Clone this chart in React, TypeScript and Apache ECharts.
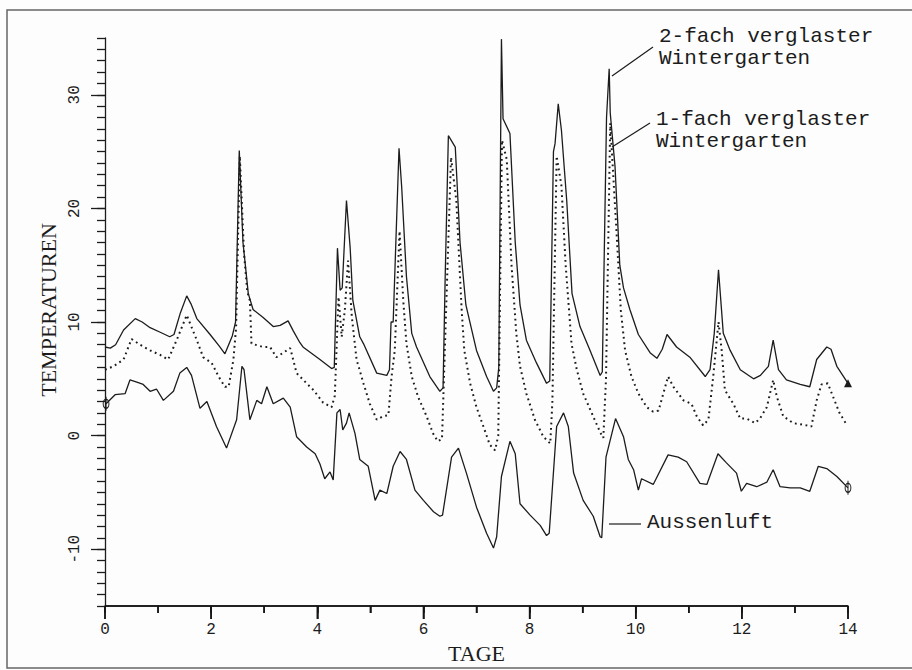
import React, { useEffect, useRef } from "react";
import * as echarts from "echarts";

// 2-fach verglaster Wintergarten (solid, upper)
const zweifachTage = [0, 0.1, 0.2, 0.35, 0.57, 0.7, 0.85, 1.04, 1.22, 1.3, 1.42, 1.54, 1.62, 1.73, 1.98, 2.15, 2.26, 2.4, 2.46, 2.53, 2.6, 2.7, 2.79, 2.98, 3.17, 3.3, 3.45, 3.55, 3.67, 3.73, 4.05, 4.27, 4.32, 4.38, 4.43, 4.47, 4.55, 4.62, 4.67, 4.8, 4.87, 5.12, 5.31, 5.36, 5.39, 5.43, 5.54, 5.59, 5.68, 5.78, 5.87, 6.12, 6.31, 6.37, 6.41, 6.47, 6.6, 6.69, 6.8, 7.0, 7.19, 7.32, 7.38, 7.42, 7.47, 7.5, 7.63, 7.73, 7.82, 7.94, 8.13, 8.32, 8.38, 8.45, 8.48, 8.54, 8.6, 8.7, 8.8, 8.95, 9.14, 9.33, 9.37, 9.45, 9.5, 9.52, 9.61, 9.7, 9.77, 9.89, 10.05, 10.27, 10.4, 10.5, 10.59, 10.77, 11.02, 11.31, 11.4, 11.48, 11.56, 11.65, 11.78, 11.97, 12.22, 12.35, 12.5, 12.59, 12.69, 12.84, 13.1, 13.28, 13.41, 13.6, 13.68, 13.79, 14.0];
const zweifachTemp = [7.8, 7.7, 8.0, 9.3, 10.3, 10.0, 9.5, 9.1, 8.7, 8.9, 10.8, 12.3, 11.6, 10.3, 8.9, 7.9, 7.2, 8.8, 10.0, 25.1, 17.0, 12.5, 11.1, 10.4, 9.6, 9.7, 10.1, 9.2, 8.2, 7.8, 6.7, 5.9, 6.0, 16.5, 12.8, 13.0, 20.7, 16.5, 11.9, 8.7, 8.1, 5.5, 5.3, 5.8, 10.0, 10.0, 25.3, 21.9, 14.0, 9.0, 7.8, 5.2, 3.9, 4.2, 14.0, 26.4, 25.4, 17.0, 11.5, 7.5, 5.2, 3.9, 4.2, 6.0, 34.9, 27.9, 26.6, 17.0, 11.5, 8.4, 6.4, 4.6, 4.8, 25.0, 25.7, 29.2, 26.9, 20.7, 12.5, 9.6, 7.5, 5.3, 5.6, 28.0, 32.3, 28.4, 23.7, 15.0, 13.0, 11.1, 8.9, 7.3, 6.8, 7.6, 8.9, 7.8, 6.9, 5.2, 5.8, 9.0, 14.6, 9.0, 7.5, 5.8, 5.0, 5.3, 6.1, 8.4, 5.8, 4.9, 4.5, 4.3, 6.7, 7.8, 7.6, 6.1, 4.6];

// 1-fach verglaster Wintergarten (dotted)
const einfachTage = [0, 0.16, 0.35, 0.5, 0.66, 0.85, 1.04, 1.19, 1.35, 1.54, 1.73, 1.85, 2.01, 2.14, 2.26, 2.33, 2.42, 2.47, 2.54, 2.62, 2.68, 2.73, 2.76, 2.98, 3.11, 3.23, 3.36, 3.49, 3.61, 3.8, 3.93, 4.11, 4.27, 4.33, 4.4, 4.46, 4.52, 4.58, 4.65, 4.74, 4.87, 4.99, 5.12, 5.24, 5.34, 5.4, 5.46, 5.55, 5.62, 5.68, 5.78, 5.9, 6.06, 6.18, 6.27, 6.35, 6.42, 6.52, 6.62, 6.68, 6.72, 6.77, 6.88, 7.0, 7.13, 7.25, 7.35, 7.41, 7.48, 7.57, 7.66, 7.75, 7.82, 7.94, 8.1, 8.26, 8.39, 8.43, 8.51, 8.6, 8.68, 8.73, 8.79, 8.89, 9.01, 9.17, 9.33, 9.39, 9.44, 9.52, 9.64, 9.72, 9.8, 9.92, 10.05, 10.21, 10.33, 10.43, 10.52, 10.61, 10.71, 10.9, 11.05, 11.15, 11.27, 11.37, 11.46, 11.56, 11.62, 11.68, 11.84, 11.97, 12.09, 12.25, 12.34, 12.47, 12.59, 12.66, 12.78, 12.97, 13.22, 13.31, 13.41, 13.5, 13.62, 13.72, 13.84, 13.97];
const einfachTemp = [5.8, 6.1, 6.7, 8.5, 8.0, 7.5, 7.1, 6.7, 8.4, 10.6, 8.4, 6.9, 6.4, 5.2, 4.3, 4.3, 6.7, 9.5, 24.6, 16.0, 12.7, 11.9, 8.1, 7.8, 7.8, 6.9, 7.3, 7.7, 5.5, 4.6, 4.0, 2.9, 2.5, 3.5, 12.2, 8.7, 11.1, 15.4, 10.5, 6.7, 4.6, 2.8, 1.4, 1.7, 1.8, 5.2, 7.5, 18.0, 11.9, 8.1, 5.2, 3.4, 1.7, 0.2, -0.5, -0.3, 10.0, 24.5, 20.7, 14.9, 11.1, 7.5, 4.6, 2.5, 0.8, -0.8, -1.3, 0.0, 26.0, 24.3, 15.0, 9.0, 6.1, 3.7, 1.4, -0.1, -0.7, 3.0, 24.6, 22.0, 15.0, 11.9, 8.1, 5.8, 3.7, 2.0, 0.3, -0.2, 5.0, 27.5, 17.8, 11.0, 7.5, 5.2, 3.7, 2.5, 2.1, 2.2, 3.7, 5.2, 4.3, 3.1, 2.8, 1.7, 0.9, 1.4, 5.2, 10.0, 7.5, 4.0, 2.8, 1.5, 1.5, 1.1, 1.5, 2.5, 4.9, 3.4, 1.7, 1.1, 0.9, 0.8, 3.1, 4.5, 4.6, 3.4, 2.0, 1.0];

// Aussenluft (solid, lower)
const aussenTage = [0.02, 0.19, 0.38, 0.47, 0.6, 0.72, 0.85, 0.97, 1.1, 1.29, 1.41, 1.54, 1.63, 1.79, 1.92, 2.1, 2.29, 2.48, 2.58, 2.62, 2.73, 2.86, 2.95, 3.05, 3.17, 3.36, 3.49, 3.61, 3.8, 3.96, 4.05, 4.14, 4.24, 4.3, 4.37, 4.43, 4.48, 4.55, 4.6, 4.71, 4.8, 4.96, 5.09, 5.18, 5.31, 5.43, 5.56, 5.68, 5.84, 6.0, 6.19, 6.31, 6.36, 6.53, 6.66, 6.81, 7.0, 7.19, 7.32, 7.38, 7.47, 7.63, 7.73, 7.82, 8.01, 8.2, 8.32, 8.37, 8.51, 8.64, 8.73, 8.83, 9.01, 9.2, 9.33, 9.36, 9.44, 9.62, 9.77, 9.86, 9.96, 10.05, 10.11, 10.33, 10.61, 10.8, 10.96, 11.21, 11.34, 11.55, 11.71, 11.9, 11.99, 12.09, 12.28, 12.47, 12.59, 12.72, 12.91, 13.1, 13.28, 13.44, 13.6, 13.79, 14.0];
const aussenTemp = [2.8, 3.6, 3.7, 4.9, 4.7, 4.5, 3.9, 4.1, 3.1, 3.9, 5.5, 6.0, 5.3, 2.4, 3.0, 0.8, -1.1, 1.4, 6.1, 5.8, 1.4, 3.1, 2.8, 4.3, 2.8, 3.3, 2.5, -0.1, -1.0, -1.6, -2.5, -3.8, -3.2, -3.9, 2.0, 2.3, 0.5, 1.1, 2.0, 0.2, -2.1, -2.7, -5.7, -4.8, -5.1, -2.7, -1.4, -2.1, -4.8, -5.7, -6.7, -7.1, -7.0, -1.9, -1.1, -3.3, -6.3, -8.6, -9.9, -8.9, -3.6, -0.5, -1.6, -6.0, -7.0, -7.9, -8.8, -8.6, 0.8, 2.0, 0.8, -3.3, -5.7, -7.1, -8.9, -9.0, -1.9, 1.5, -0.1, -2.1, -3.0, -4.8, -3.8, -4.3, -1.7, -1.9, -2.3, -4.2, -4.3, -1.6, -2.4, -3.3, -4.9, -4.2, -4.5, -4.1, -3.0, -4.5, -4.6, -4.6, -4.9, -2.7, -2.9, -3.6, -4.6];

const xLabelWerte = [0, 2, 4, 6, 8, 10, 12, 14];
const xTickWerte = Array.from({ length: 15 }, (_, i) => i);
const yLabelWerte = [-10, 0, 10, 20, 30];
const yTickWerte = Array.from({ length: 51 }, (_, i) => i - 15);
const Y_MIN = -15;
const Y_MAX = 35;
const X_MIN = 0;
const X_MAX = 14;

const INK = "#1c1c1c";
const MONO = "'Liberation Mono', 'DejaVu Sans Mono', monospace";
const SERIF = "'Liberation Serif', 'DejaVu Serif', serif";
const PHI = "path://M0,-7L0,7M-4.5,0A4.5,4.5 0 1,0 4.5,0A4.5,4.5 0 1,0 -4.5,0Z";

const zip = (xs: number[], ys: number[]) => xs.map((x, i) => [x, ys[i]]);

export default function App() {
  const ref = useRef<HTMLDivElement>(null);
  useEffect(() => {
    if (!ref.current) return;
    const chart = echarts.init(ref.current, undefined, { renderer: "svg" });

    const axisLs = { color: "#141414", width: 1.5 };
    const ls = { color: INK, width: 1.3 };

    const zweifach: any[] = zip(zweifachTage, zweifachTemp);
    zweifach[zweifach.length - 1] = {
      value: zweifach[zweifach.length - 1],
      symbol: "triangle",
      symbolSize: 8,
    };
    const aussen: any[] = zip(aussenTage, aussenTemp);
    const phi = (v: any) => ({
      value: v,
      symbol: PHI,
      symbolSize: [9, 14],
      symbolKeepAspect: true,
      itemStyle: { color: "rgba(0,0,0,0)", borderColor: INK, borderWidth: 1.2 },
    });
    aussen[0] = phi(aussen[0]);
    aussen[aussen.length - 1] = phi(aussen[aussen.length - 1]);

    const graphicBase: any[] = [
      {
        type: "rect",
        shape: { x: 7, y: 10, width: 930, height: 658 },
        style: { fill: "none", stroke: "#666", lineWidth: 1.5 },
        silent: true,
      },
      { type: "line", shape: { x1: 612, y1: 76, x2: 653, y2: 47 }, style: { stroke: INK, lineWidth: 1.2 } },
      {
        type: "text",
        left: 659,
        top: 25,
        style: { text: "2-fach verglaster\nWintergarten", fill: INK, font: `21px ${MONO}`, lineHeight: 22 },
      },
      { type: "line", shape: { x1: 612, y1: 147, x2: 650, y2: 123 }, style: { stroke: INK, lineWidth: 1.2 } },
      {
        type: "text",
        left: 656,
        top: 108,
        style: { text: "1-fach verglaster\nWintergarten", fill: INK, font: `21px ${MONO}`, lineHeight: 22 },
      },
      { type: "line", shape: { x1: 609, y1: 524, x2: 641, y2: 524 }, style: { stroke: INK, lineWidth: 1.2 } },
      {
        type: "text",
        left: 647,
        top: 512,
        style: { text: "Aussenluft", fill: INK, font: `21px ${MONO}` },
      },
    ];

    const option: any = {
      animation: false,
      backgroundColor: "#fdfdfd",
      grid: { left: 105, right: 64, top: 38, bottom: 64 },
      xAxis: [
        {
          type: "value",
          position: "bottom",
          min: X_MIN,
          max: X_MAX,
          splitLine: { show: false },
          axisLine: { show: true, onZero: false, lineStyle: axisLs },
          axisTick: { show: true, customValues: xTickWerte, length: 7, lineStyle: axisLs },
          axisLabel: { customValues: xLabelWerte, color: INK, fontFamily: MONO, fontSize: 16, margin: 16 },
          name: "TAGE",
          nameLocation: "middle",
          nameGap: 25,
          nameTextStyle: { color: INK, fontFamily: SERIF, fontSize: 22 },
        },
        {
          type: "value",
          position: "bottom",
          min: X_MIN,
          max: X_MAX,
          splitLine: { show: false },
          axisLine: { show: false, onZero: false },
          axisTick: { show: true, customValues: xLabelWerte, length: 13, lineStyle: axisLs },
          axisLabel: { show: false },
        },
      ],
      yAxis: [
        {
          type: "value",
          min: Y_MIN,
          max: Y_MAX,
          position: "left",
          splitLine: { show: false },
          axisLine: { show: true, lineStyle: ls },
          axisTick: { show: true, customValues: yTickWerte, length: 8, lineStyle: ls },
          axisLabel: {
            customValues: yLabelWerte,
            rotate: 90,
            margin: 22,
            color: INK,
            fontFamily: MONO,
            fontSize: 16,
          },
          name: "TEMPERATUREN",
          nameLocation: "middle",
          nameGap: 46,
          nameTextStyle: { color: INK, fontFamily: SERIF, fontSize: 22, padding: [0, 0, 0, 24] },
        },
        {
          type: "value",
          min: Y_MIN,
          max: Y_MAX,
          position: "left",
          splitLine: { show: false },
          axisLine: { show: false },
          axisTick: { show: true, customValues: yLabelWerte, length: 14, lineStyle: ls },
          axisLabel: { show: false },
        },
      ],
      series: [
        {
          name: "2-fach verglaster Wintergarten",
          type: "line",
          data: zweifach,
          symbol: "none",
          showSymbol: true,
          clip: false,
          lineStyle: ls,
          itemStyle: { color: INK },
        },
        {
          name: "1-fach verglaster Wintergarten",
          type: "line",
          data: zip(einfachTage, einfachTemp),
          symbol: "none",
          clip: false,
          lineStyle: { color: INK, width: 2, type: [1.8, 3.6] },
        },
        {
          name: "Aussenluft",
          type: "line",
          data: aussen,
          symbol: "none",
          showSymbol: true,
          clip: false,
          lineStyle: ls,
          itemStyle: { color: INK },
        },
      ],
      graphic: graphicBase,
    };
    chart.setOption(option);

    // reinforce the bottom axis line and its ticks, positioned through the chart's own scales
    try {
      const finder = { xAxisIndex: 0, yAxisIndex: 0 };
      const a: any = chart.convertToPixel(finder as any, [X_MIN, Y_MIN]);
      const b: any = chart.convertToPixel(finder as any, [X_MAX, Y_MIN]);
      if (a && b && isFinite(a[0]) && isFinite(a[1])) {
        const extra: any[] = [
          {
            type: "line",
            z: 100,
            silent: true,
            shape: { x1: a[0], y1: a[1], x2: b[0], y2: b[1] },
            style: { stroke: "#141414", lineWidth: 1.5 },
          },
        ];
        xTickWerte.forEach((v) => {
          const p: any = chart.convertToPixel(finder as any, [v, Y_MIN]);
          const len = xLabelWerte.indexOf(v) >= 0 ? 13 : 7;
          extra.push({
            type: "line",
            z: 100,
            silent: true,
            shape: { x1: p[0], y1: p[1], x2: p[0], y2: p[1] + len },
            style: { stroke: "#141414", lineWidth: 1.5 },
          });
        });
        chart.setOption({ graphic: graphicBase.concat(extra) });
      }
    } catch (e) {
      // keep the chart as it is
    }
    return () => chart.dispose();
  }, []);
  return (
    <div
      ref={ref}
      style={{ position: "absolute", left: 0, top: 0, width: 912, height: 670, background: "#fdfdfd" }}
    />
  );
}
